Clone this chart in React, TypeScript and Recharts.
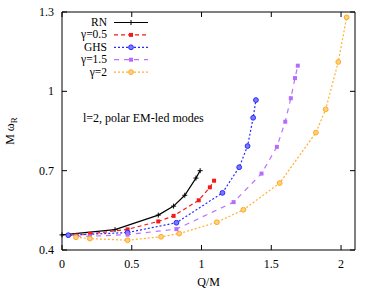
import React from 'react'
import { LineChart, Line, XAxis, YAxis, ReferenceArea, Customized } from 'recharts'

// Q/M and M*omega_R, one pair of arrays per family
const rnQ = [0, 0.38, 0.69, 0.8, 0.88, 0.96, 0.99]
const rnW = [0.457, 0.477, 0.532, 0.566, 0.607, 0.672, 0.7]

const g05Q = [0.045, 0.1, 0.2, 0.47, 0.69, 0.8, 0.98, 1.06, 1.09]
const g05W = [0.456, 0.455, 0.461, 0.478, 0.508, 0.529, 0.588, 0.637, 0.662]

const ghsQ = [0.045, 0.47, 0.82, 1.15, 1.27, 1.33, 1.37, 1.39]
const ghsW = [0.456, 0.466, 0.503, 0.616, 0.713, 0.793, 0.9, 0.967]

const g15Q = [0.1, 0.2, 0.47, 0.82, 1.23, 1.43, 1.54, 1.6, 1.64, 1.67, 1.69]
const g15W = [0.452, 0.452, 0.458, 0.479, 0.581, 0.689, 0.79, 0.885, 0.974, 1.05, 1.097]

const g2Q = [0.1, 0.2, 0.47, 0.71, 0.84, 1.11, 1.3, 1.56, 1.82, 1.89, 1.98, 2.04]
const g2W = [0.448, 0.443, 0.437, 0.45, 0.462, 0.505, 0.552, 0.653, 0.844, 0.932, 1.111, 1.28]

const xTicks = [0, 0.5, 1, 1.5, 2]
const yTicks = [0.4, 0.7, 1, 1.3]

// plot box (layout only)
const W = 378
const H = 291
const LEFT = 62
const RIGHT = 355
const TOP = 12
const BOTTOM = 250
const FONT = "'Liberation Serif', 'DejaVu Serif', serif"
const txt = { fontFamily: FONT, fontSize: 12 }

const toPoints = (q: number[], w: number[]) => q.map((x, i) => ({ q: x, w: w[i] }))

type Marker = (cx: number, cy: number, key?: string) => React.ReactElement

const plus = (color: string): Marker => (cx, cy, key) => (
  <path key={key} d={`M${cx - 2.5},${cy}h5M${cx},${cy - 2.5}v5`} stroke={color} strokeWidth={1} fill="none" />
)
const square = (color: string): Marker => (cx, cy, key) => (
  <rect key={key} x={cx - 2} y={cy - 2} width={4} height={4} fill={color} />
)
const ring = (color: string, fill: string): Marker => (cx, cy, key) => (
  <circle key={key} cx={cx} cy={cy} r={2.4} stroke={color} strokeWidth={1} fill={fill} />
)

const series = [
  { name: 'RN', data: toPoints(rnQ, rnW), color: '#000000', dash: undefined, marker: plus('#000000') },
  { name: 'γ=0.5', data: toPoints(g05Q, g05W), color: '#f21a1a', dash: '4 3', marker: square('#f21a1a') },
  { name: 'GHS', data: toPoints(ghsQ, ghsW), color: '#2a2aff', dash: '2 2', marker: ring('#2a2aff', '#7a7aff') },
  { name: 'γ=1.5', data: toPoints(g15Q, g15W), color: '#b874ff', dash: '5 5', marker: square('#b46cff') },
  { name: 'γ=2', data: toPoints(g2Q, g2W), color: '#ffb030', dash: '2 2', marker: ring('#ffa820', '#ffd080') },
]

const XTick = (props: any) => {
  const { x, payload } = props
  return (
    <g>
      <line x1={x} x2={x} y1={BOTTOM} y2={BOTTOM - 5} stroke="#000" />
      <line x1={x} x2={x} y1={TOP} y2={TOP + 5} stroke="#000" />
      <text x={x} y={BOTTOM + 18} textAnchor="middle" style={txt} fill="#000">
        {payload.value}
      </text>
    </g>
  )
}

const YTick = (props: any) => {
  const { y, payload } = props
  return (
    <g>
      <line x1={LEFT} x2={LEFT + 5} y1={y} y2={y} stroke="#000" />
      <line x1={RIGHT} x2={RIGHT - 5} y1={y} y2={y} stroke="#000" />
      <text x={54} y={y + 4} textAnchor="end" style={txt} fill="#000">
        {payload.value}
      </text>
    </g>
  )
}

const Annotations = () => (
  <g fill="#000">
    <text x={(LEFT + RIGHT) / 2} y={286} textAnchor="middle" style={txt}>Q/M</text>
    <text transform="translate(14,131) rotate(-90)" textAnchor="middle" style={txt}>
      M ω<tspan style={{ fontSize: 9 }} dy={3}>R</tspan>
    </text>
    <text x={83} y={122} style={txt}>l=2, polar EM-led modes</text>
    {/* key */}
    {series.map((s, i) => {
      const cy = 22.5 + i * 12.4
      return (
        <g key={s.name}>
          <text x={107} y={cy + 3.5} textAnchor="end" style={{ fontFamily: FONT, fontSize: 11.5 }}>{s.name}</text>
          <line x1={114} x2={148} y1={cy} y2={cy} stroke={s.color} strokeWidth={1.2} strokeDasharray={s.dash} />
          {s.marker(131, cy)}
        </g>
      )
    })}
  </g>
)

export default function App() {
  return (
    <div style={{ position: 'absolute', left: 0, top: 0, width: W, height: H, background: '#fff' }}>
      <LineChart width={W} height={H} margin={{ top: TOP, right: W - RIGHT, bottom: 0, left: 0 }}>
        <XAxis
          type="number"
          dataKey="q"
          domain={[0, 2.1]}
          ticks={xTicks}
          height={H - BOTTOM}
          axisLine={false}
          tickLine={false}
          tick={<XTick />}
          allowDuplicatedCategory={false}
        />
        <YAxis
          type="number"
          dataKey="w"
          domain={[0.4, 1.3]}
          ticks={yTicks}
          width={LEFT}
          axisLine={false}
          tickLine={false}
          tick={<YTick />}
        />
        <ReferenceArea x1={0} x2={2.1} y1={0.4} y2={1.3} fill="none" stroke="#000" strokeWidth={1} />
        {series.map((s) => (
          <Line
            key={s.name}
            data={s.data}
            dataKey="w"
            type="linear"
            stroke={s.color}
            strokeWidth={1.2}
            strokeDasharray={s.dash}
            dot={(p: any) => s.marker(p.cx, p.cy, `${s.name}-${p.index}`)}
            activeDot={false}
            isAnimationActive={false}
          />
        ))}
        <Customized component={<Annotations />} />
      </LineChart>
    </div>
  )
}
